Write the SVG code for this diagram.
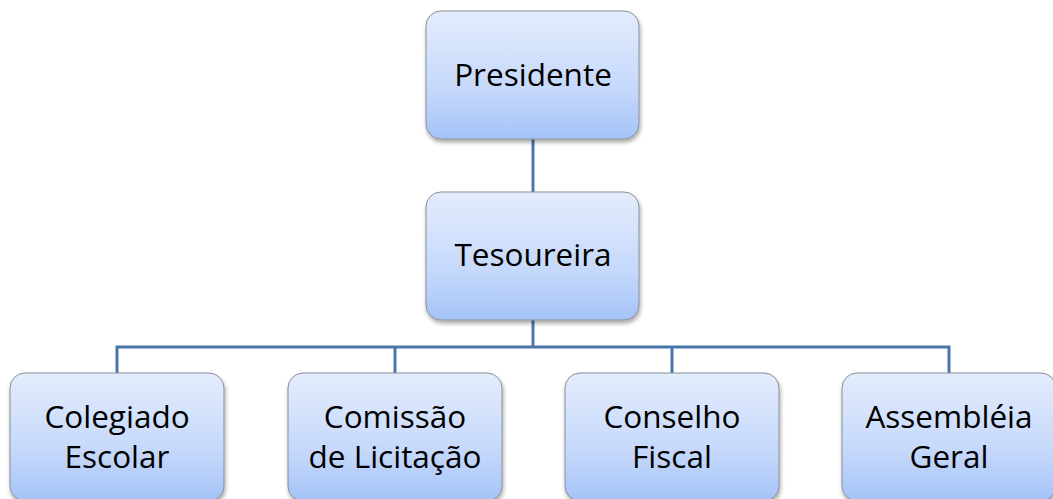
<svg xmlns="http://www.w3.org/2000/svg" width="1053" height="499" viewBox="0 0 1053 499">
<defs>
<linearGradient id="g" x1="0" y1="0" x2="0" y2="1">
<stop offset="0" stop-color="#e3ecfc"/>
<stop offset="0.6" stop-color="#c6d9fb"/>
<stop offset="1" stop-color="#a5c3f8"/>
</linearGradient>
<filter id="sh" x="-10%" y="-10%" width="125%" height="125%">
<feGaussianBlur in="SourceAlpha" stdDeviation="2"/>
<feOffset dx="1" dy="3"/>
<feComponentTransfer><feFuncA type="linear" slope="0.35"/></feComponentTransfer>
<feMerge><feMergeNode/><feMergeNode in="SourceGraphic"/></feMerge>
</filter>
</defs>
<style>
.box{fill:url(#g);stroke:#8a8f99;stroke-width:1;filter:url(#sh)}
.t{font-family:"Open Sans","Noto Sans",sans-serif;font-size:31.5px;fill:#000;text-anchor:middle}
.c{fill:none;stroke:#4a76a8;stroke-width:3}
</style>
<g id="connectors">
<line class="c" x1="533" y1="139" x2="533" y2="192"/>
<line class="c" x1="533" y1="320" x2="533" y2="347"/>
<polyline class="c" points="117,373 117,347 949,347 949,373"/>
<line class="c" x1="395" y1="347" x2="395" y2="373"/>
<line class="c" x1="672" y1="347" x2="672" y2="373"/>
</g>
<g id="presidente">
<rect class="box" x="426" y="11" width="213" height="128" rx="15"/>
<text class="t" x="533" y="86">Presidente</text>
</g>
<g id="tesoureira">
<rect class="box" x="426" y="192" width="213" height="128" rx="15"/>
<text class="t" x="533" y="266">Tesoureira</text>
</g>
<g id="colegiado">
<rect class="box" x="10" y="373" width="214" height="128" rx="15"/>
<text class="t" x="117" y="428">Colegiado</text>
<text class="t" x="117" y="468">Escolar</text>
</g>
<g id="comissao">
<rect class="box" x="288" y="373" width="214" height="128" rx="15"/>
<text class="t" x="395" y="428">Comissão</text>
<text class="t" x="395" y="468">de Licitação</text>
</g>
<g id="conselho">
<rect class="box" x="565" y="373" width="214" height="128" rx="15"/>
<text class="t" x="672" y="428">Conselho</text>
<text class="t" x="672" y="468">Fiscal</text>
</g>
<g id="assembleia">
<rect class="box" x="842" y="373" width="214" height="128" rx="15"/>
<text class="t" x="949" y="428">Assembléia</text>
<text class="t" x="949" y="468">Geral</text>
</g>
</svg>
